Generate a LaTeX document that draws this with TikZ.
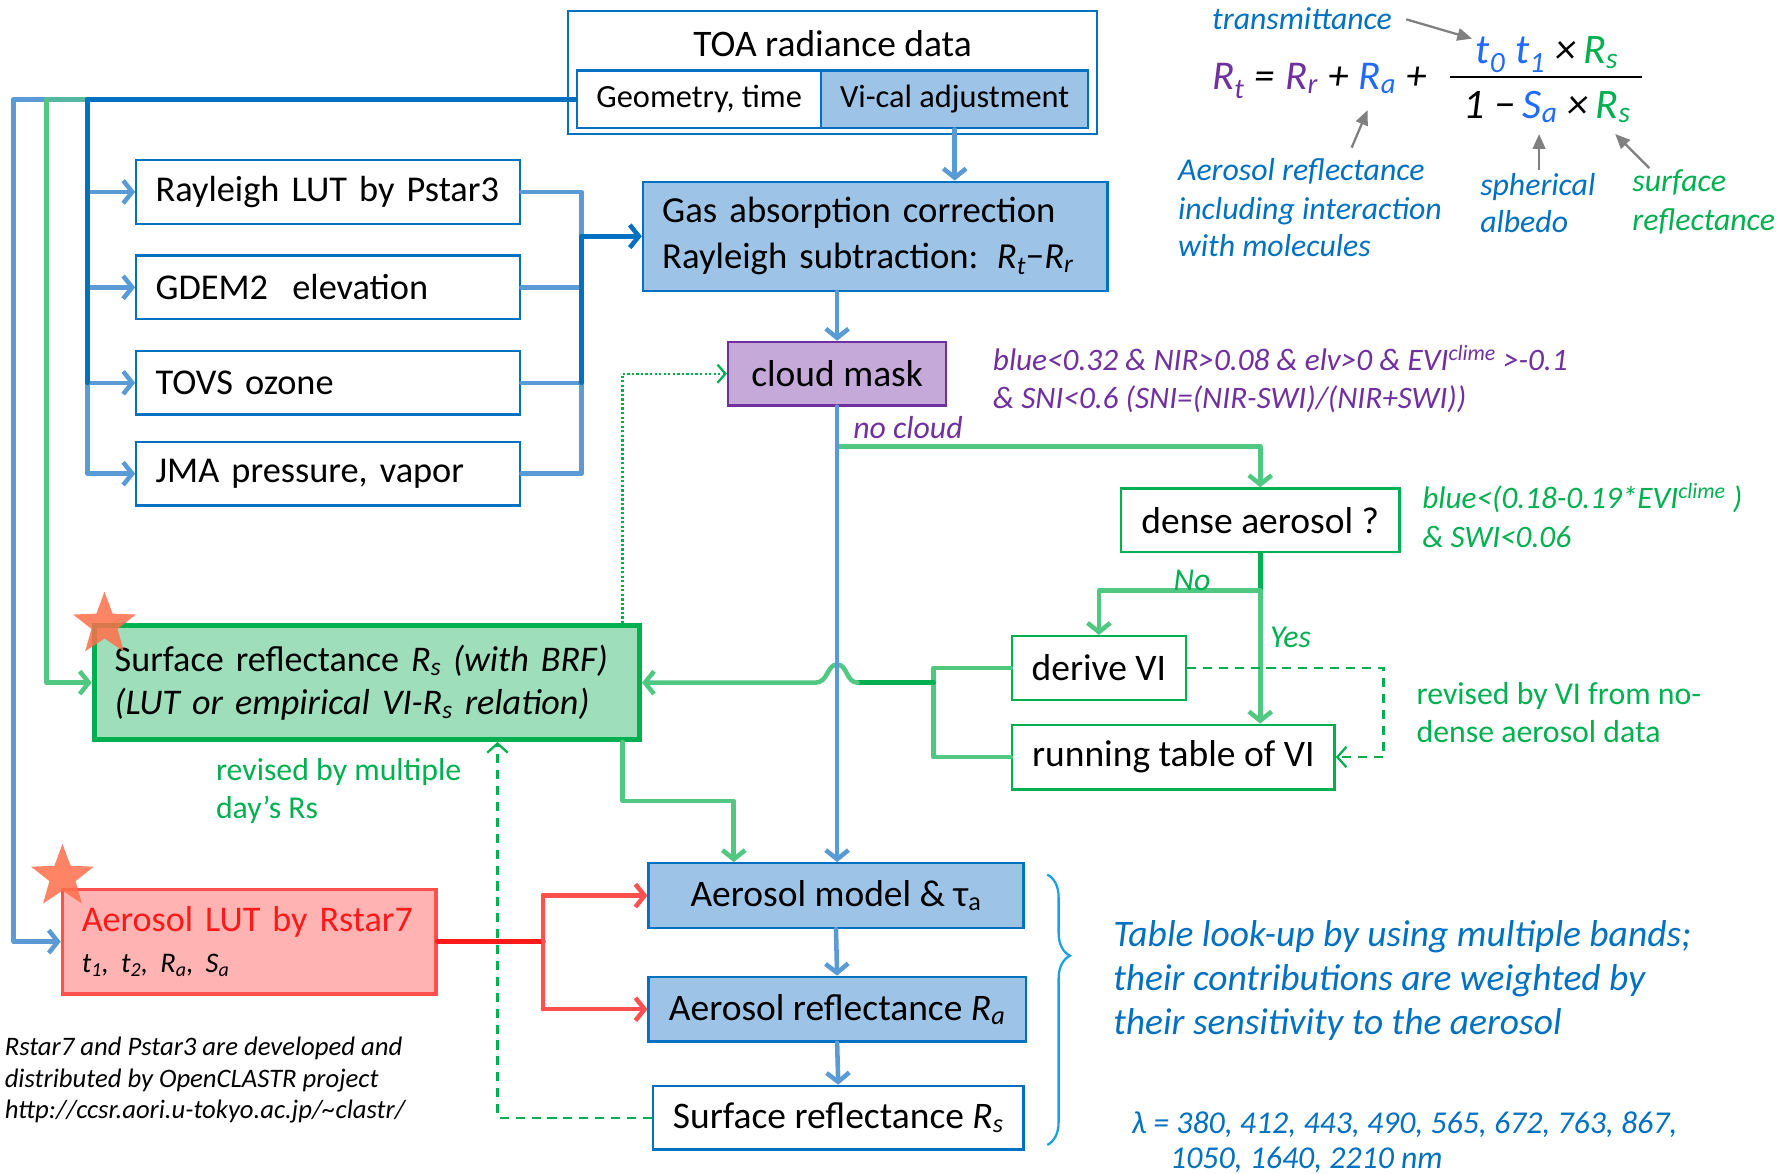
\documentclass[tikz,border=0pt]{standalone}
\usepackage{fontspec}
\setmainfont{Carlito}
\usetikzlibrary{arrows.meta,shapes.geometric,decorations.pathreplacing}
\definecolor{dblue}{HTML}{0070C0}
\definecolor{lblue}{HTML}{5B9BD5}
\definecolor{bfill}{HTML}{9DC3E6}
\definecolor{mgreen}{RGB}{80,200,130}
\definecolor{dgreen}{HTML}{00B050}
\definecolor{purp}{HTML}{7030A0}
\definecolor{pfill}{HTML}{C5A9D9}
\definecolor{redd}{HTML}{FF1A1A}
\definecolor{redl}{HTML}{FF5050}
\definecolor{rfill}{HTML}{FFB3B3}
\definecolor{sfill}{RGB}{158,222,186}
\definecolor{eqblue}{HTML}{1F6BFF}
\definecolor{starc}{HTML}{FF6F4A}
\definecolor{bracec}{HTML}{1BA1E2}
\definecolor{grayarr}{HTML}{808080}
\newcommand\isub[2]{\textit{#1}\textsubscript{\textit{#2}}}
\newcommand\eqgap{\hspace{9pt}}
\tikzset{
  conn/.style={line width=4pt, line cap=round, line join=round},
  lbl/.style={conn, draw=lblue},
  dbl/.style={conn, draw=dblue},
  mgl/.style={conn, draw=mgreen},
  dgl/.style={conn, draw=dgreen},
  rdl/.style={conn, draw=redl},
  arr/.style={-{Straight Barb[length=8pt,width=20pt]}},
  boxbase/.style={line width=2pt, inner sep=0pt, font=\fontsize{33}{38}\selectfont},
  wbox/.style={boxbase, draw=dblue, fill=white},
  bbox/.style={boxbase, draw=dblue, fill=bfill},
  gbox/.style={boxbase, draw=dgreen, fill=white},
  inbox/.style={wbox, minimum width=338pt, minimum height=56pt, text width=304pt, inner xsep=17pt, align=left, font=\fontsize{32}{38}\selectfont},
  captxt/.style={anchor=base west, inner sep=0pt},
  c28/.style={captxt, font=\fontsize{28}{32}\selectfont\itshape},
  u28/.style={captxt, font=\fontsize{28}{32}\selectfont},
  graya/.style={draw=grayarr, line width=2pt, -{Triangle[length=13pt,width=11pt]}},
  starn/.style={star, star points=5, star point ratio=2.4, fill=starc, opacity=0.85, minimum size=58pt, inner sep=0pt},
}
\begin{document}
\begin{tikzpicture}[x=1pt,y=-1pt]
\useasboundingbox (0,0) rectangle (1568,1033);

% ---------- top boxes
\node[wbox, minimum width=466pt, minimum height=108pt] (toa) at (733,64) {};
\node[anchor=base, inner sep=0pt, font=\fontsize{33}{38}\selectfont] (toat) at (733,50) {TOA radiance data};
\node[wbox, minimum width=215pt, minimum height=51pt, font=\fontsize{28.5}{32}\selectfont] (geo) at (615.5,87.5) {Geometry, time};
\node[bbox, minimum width=235pt, minimum height=51pt, font=\fontsize{28.5}{32}\selectfont] (vical) at (840.5,87.5) {Vi-cal adjustment};

\node[bbox, minimum width=409pt, minimum height=96pt, text width=375pt, inner xsep=17pt, align=left, font=\fontsize{32.3}{40}\selectfont] (gas) at (770.5,208) {Gas absorption correction\\Rayleigh subtraction: \isub{R}{t}−\isub{R}{r}};

\node[inbox] (ray) at (289,169) {Rayleigh LUT by Pstar3};
\node[inbox] (gdem) at (289,253) {GDEM2\ \ elevation};
\node[inbox] (tovs) at (289,337) {TOVS ozone};
\node[inbox] (jma) at (289,417) {JMA pressure, vapor};

\node[boxbase, draw=purp, fill=pfill, minimum width=192pt, minimum height=56pt] (cloud) at (737,329) {cloud mask};
\node[gbox, minimum width=245pt, minimum height=56pt] (dense) at (1109.5,458) {dense aerosol ?};
\node[gbox, minimum width=153pt, minimum height=56pt] (derive) at (967.5,588) {derive VI};
\node[gbox, minimum width=284pt, minimum height=57pt] (run) at (1033,666.5) {running table of VI};

\node[boxbase, draw=dgreen, fill=sfill, line width=4.5pt, minimum width=480pt, minimum height=100pt, text width=444pt, inner xsep=18pt, align=left, font=\fontsize{31.8}{38}\selectfont] (sr) at (323,601) {Surface reflectance \isub{R}{s} \textit{(with BRF)}\\\textit{(LUT or empirical VI-\isub{R}{s} relation)}};

\node[boxbase, draw=redl, fill=rfill, line width=3pt, minimum width=329pt, minimum height=92pt, text width=295pt, inner xsep=17pt, align=left, font=\fontsize{31.8}{36}\selectfont] (lut) at (219.5,829) {\textcolor{redd}{Aerosol LUT by Rstar7}\\[0pt]{\fontsize{25}{30}\selectfont\itshape t\textsubscript{1}, t\textsubscript{2}, R\textsubscript{a}, S\textsubscript{a}}};

\node[bbox, minimum width=330pt, minimum height=57pt] (aemod) at (736,788.5) {Aerosol model \& τ\textsubscript{a}};
\node[bbox, minimum width=332pt, minimum height=57pt] (aeref) at (737,888.5) {Aerosol reflectance \isub{R}{a}};
\node[wbox, minimum width=326pt, minimum height=56pt] (srb) at (738,984) {Surface reflectance \isub{R}{s}};

% ---------- named junctions
\coordinate (j1) at (77,87.5);
\coordinate (gg) at (41,87.5);
\coordinate (lb) at (12,87.5);
\coordinate (r2) at (512,169);
\coordinate (nc) at (737,393);
\coordinate (yn) at (1109.5,520);
\coordinate (dsh) at (1218,588);
\coordinate (vj) at (822,601);
\coordinate (b1) at (755,601);
\coordinate (b2) at (718,601);
\coordinate (dt) at (548,329);
\coordinate (ga) at (548,705);
\coordinate (ga2) at (646,705);
\coordinate (dd) at (438,984);
\coordinate (rj) at (478,829);

% ---------- left feeds
\draw[lbl, arr] (j1) -- (lb) -- (lb |- lut.west) -- (lut.west);
\draw[mgl, arr] (gg) -- (gg |- sr.west) -- (sr.west);
\draw[mgl, opacity=0.6] (j1) -- (gg);
\draw[lbl, arr] (j1 |- ray.west) -- (ray.west);
\draw[lbl, arr] (j1 |- gdem.west) -- (gdem.west);
\draw[lbl, arr] (j1 |- tovs.west) -- (tovs.west);
\draw[lbl, arr] (j1 |- tovs.west) -- (j1 |- jma.west) -- (jma.west);
\draw[dbl] (geo.west) -- (j1) -- (j1 |- tovs.west);

% ---------- right of input boxes
\draw[lbl] (ray.east) -- (r2) -- (r2 |- jma.east) -- (jma.east);
\draw[lbl] (gdem.east) -- (r2 |- gdem.east);
\draw[lbl] (tovs.east) -- (r2 |- tovs.east);
\draw[dbl] (r2 |- gas.west) -- (r2 |- tovs.east);
\draw[dbl, arr] (r2 |- gas.west) -- (gas.west);

% ---------- main chain
\draw[lbl, arr] (vical.south) -- (vical.south |- gas.north);
\draw[lbl, arr] (cloud.north |- gas.south) -- (cloud.north);
\draw[mgl, arr] (nc) -- (nc -| dense.north) -- (dense.north);
\draw[dgl] (dense.south) -- (yn);
\draw[mgl, arr] (yn) -- (yn -| derive.north) -- (derive.north);
\draw[mgl, arr] (yn) -- (yn |- run.north);
\draw[dgreen, line width=2pt, dashed, dash pattern=on 8pt off 6pt, -{Straight Barb[length=8pt,width=18pt]}] (derive.east) -- (dsh) -- (dsh |- run.east) -- (run.east);

\draw[mgl] (derive.west) -- (derive.west -| vj) -- (run.west -| vj) -- (run.west);
\draw[dgl] (vj) -- (b1);
\draw[mgl, arr] (b1) .. controls (745,601) and (746,585) .. (737,585) .. controls (728,585) and (729,601) .. (b2) -- (sr.east);

\draw[lbl, arr] (cloud.south) -- (cloud.south |- aemod.north);

\draw[dgreen, line width=2pt, dotted, -{Straight Barb[length=7pt,width=16pt]}] (sr.north -| dt) -- (dt) -- (cloud.west);
\draw[mgl, arr] (sr.south -| ga) -- (ga) -- (ga2) -- (ga2 |- aemod.north);
\draw[dgreen, line width=2pt, dashed, dash pattern=on 8pt off 6pt, -{Straight Barb[length=8pt,width=18pt]}] (srb.west) -- (dd) -- (dd |- sr.south);

\draw[conn, draw=redd, line width=5pt] (lut.east) -- (rj);
\draw[rdl] (rj |- aemod.west) -- (rj |- aeref.west);
\draw[rdl, arr] (rj |- aemod.west) -- (aemod.west);
\draw[rdl, arr] (rj |- aeref.west) -- (aeref.west);

\draw[lbl, arr] (aemod.south) -- (aeref.north);
\draw[lbl, arr] (aeref.south) -- (srb.north);

% ---------- stars
\node[starn] (st1) at (92,550) {};
\node[starn] (st2) at (55,772) {};

% ---------- brace
\draw[decorate, decoration={brace, amplitude=20pt, aspect=0.3}, draw=bracec, line width=2pt] (922,770) -- (922,1008);

% ---------- labels
\node[c28, text=purp] (ncl) at (751,386) {no cloud};
\node[c28, text=dgreen] (nol) at (1033,520) {No};
\node[c28, text=dgreen] (yesl) at (1118,570) {Yes};

\node[c28, font=\fontsize{27.5}{32}\selectfont\itshape, text=purp] (c1) at (874,326) {blue<0.32 \& NIR>0.08 \& elv>0 \& EVI\textsuperscript{clime} >-0.1};
\node[c28, font=\fontsize{27.5}{32}\selectfont\itshape, text=purp] (c2) at (874,360) {\& SNI<0.6 (SNI=(NIR-SWI)/(NIR+SWI))};
\node[c28, font=\fontsize{27.5}{32}\selectfont\itshape, text=dgreen] (d1) at (1252,448) {blue<(0.18-0.19*EVI\textsuperscript{clime} )};
\node[c28, font=\fontsize{27.5}{32}\selectfont\itshape, text=dgreen] (d2) at (1252,482) {\& SWI<0.06};

\node[u28, text=dgreen] (v1) at (1247,620) {revised by VI from no-};
\node[u28, text=dgreen] (v2) at (1247,654) {dense aerosol data};
\node[u28, text=dgreen] (m1) at (190,687) {revised by multiple};
\node[u28, text=dgreen] (m2) at (190,721) {day’s Rs};

\node[captxt, font=\fontsize{23.5}{26}\selectfont\itshape] (f1) at (4,929) {Rstar7 and Pstar3 are developed and};
\node[captxt, font=\fontsize{23.5}{26}\selectfont\itshape] (f2) at (4,957) {distributed by OpenCLASTR project};
\node[captxt, font=\fontsize{23.5}{26}\selectfont\itshape] (f3) at (4,985) {http://ccsr.aori.u-tokyo.ac.jp/\textasciitilde clastr/};

\node[captxt, font=\fontsize{33}{38}\selectfont\itshape, text=dblue] (t1) at (980,833) {Table look-up by using multiple bands;};
\node[captxt, font=\fontsize{33}{38}\selectfont\itshape, text=dblue] (t2) at (980,872) {their contributions are weighted by};
\node[captxt, font=\fontsize{33}{38}\selectfont\itshape, text=dblue] (t3) at (980,911) {their sensitivity to the aerosol};
\node[c28, text=dblue] (l1) at (996,998) {λ = 380, 412, 443, 490, 565, 672, 763, 867,};
\node[c28, text=dblue] (l2) at (1030,1029) {1050, 1640, 2210 nm};

% ---------- equation
\node[c28, text=dblue] (tr) at (1067,26) {transmittance};
\node[captxt, font=\fontsize{36}{40}\selectfont\itshape] (eql) at (1067,79) {\textcolor{purp}{R\textsubscript{t}}\eqgap=\eqgap\textcolor{purp}{R\textsubscript{r}}\eqgap+\eqgap\textcolor{eqblue}{R\textsubscript{a}}\eqgap+};
\node[anchor=base, inner sep=0pt, font=\fontsize{37}{40}\selectfont\itshape] (num) at (1362,56) {\textcolor{eqblue}{t\textsubscript{0}\eqgap t\textsubscript{1}}\eqgap×\,\textcolor{dgreen}{R\textsubscript{s}}};
\coordinate (fl1) at (1277,68);
\coordinate (fl2) at (1446,68);
\draw[line width=1.5pt] (fl1) -- (fl2);
\node[anchor=base, inner sep=0pt, font=\fontsize{37}{40}\selectfont\itshape] (den) at (1362,104) {1\eqgap−\,\textcolor{eqblue}{S\textsubscript{a}}\eqgap×\,\textcolor{dgreen}{R\textsubscript{s}}};

\node[c28, text=dblue] (a1) at (1037,159) {Aerosol reflectance};
\node[c28, text=dblue] (a2) at (1037,193) {including interaction};
\node[c28, text=dblue] (a3) at (1037,226) {with molecules};
\node[c28, text=dblue] (s1) at (1303,172) {spherical};
\node[c28, text=dblue] (s2) at (1303,205) {albedo};
\node[c28, text=dgreen] (u1) at (1437,169) {surface};
\node[c28, text=dgreen] (u2) at (1437,203) {reflectance};

\coordinate (ta0) at (1238,17);
\coordinate (ta) at (1296,34);
\coordinate (ra0) at (1190,130);
\coordinate (ra) at (1204,97);
\coordinate (sa0) at (1355,150);
\coordinate (sa) at (1355,118);
\coordinate (rs0) at (1452,148);
\coordinate (rs) at (1422,118);
\draw[graya] (ta0) -- (ta);
\draw[graya] (ra0) -- (ra);
\draw[graya] (sa0) -- (sa);
\draw[graya] (rs0) -- (rs);
\end{tikzpicture}
\end{document}
